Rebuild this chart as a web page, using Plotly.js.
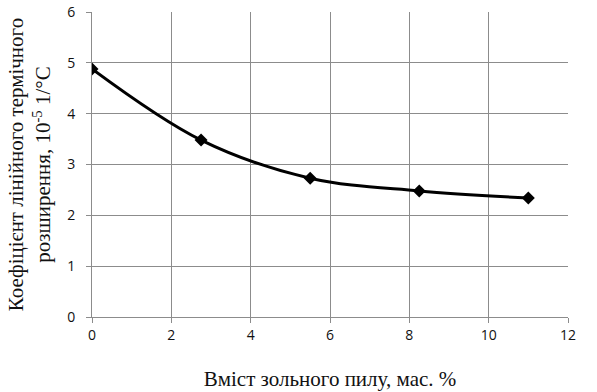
<!DOCTYPE html>
<html>
<head>
<meta charset="utf-8">
<script src="https://cdn.plot.ly/plotly-3.0.1.min.js"></script>
<style>html,body{margin:0;padding:0;background:#fff;}#chart{width:597px;height:392px;}</style>
</head>
<body>
<div id="chart"></div>
<script>
const ashContent = [0, 2.75, 5.5, 8.25, 11];
const expansionCoef = [4.88, 3.48, 2.73, 2.48, 2.34];
const xTicks = [0, 2, 4, 6, 8, 10, 12];
const yTicks = [0, 1, 2, 3, 4, 5, 6];
const xTitle = 'Вміст зольного пилу, мас. %';
const yTitle = 'Коефіцієнт лінійного термічного<br>розширення, 10<sup>-5</sup> 1/°C';

const serif = "Liberation Serif";
const sans = "Open Sans";

const trace = {
  x: ashContent, y: expansionCoef, type: 'scatter', mode: 'lines+markers',
  line: {color: '#000', width: 3, shape: 'spline', smoothing: 1},
  marker: {symbol: 'diamond', size: 10, color: '#000'},
  showlegend: false
};
const layout = {
  width: 597, height: 392,
  margin: {l: 92, r: 29, t: 12, b: 75},
  paper_bgcolor: '#fff', plot_bgcolor: '#fff',
  xaxis: {
    range: [0, 12], tickvals: xTicks, ticktext: xTicks.map(String),
    showgrid: true, gridcolor: '#8c8c8c', gridwidth: 1,
    zeroline: false, showline: true, linecolor: '#8c8c8c',
    ticks: 'outside', ticklen: 5, tickcolor: '#8c8c8c',
    tickfont: {family: sans, size: 14, color: '#111'},
    title: {text: xTitle, font: {family: serif, size: 21, color: '#111'}, standoff: 28}
  },
  yaxis: {
    range: [0, 6], tickvals: yTicks, ticktext: yTicks.map(String),
    showgrid: true, gridcolor: '#8c8c8c', gridwidth: 1,
    zeroline: false, showline: true, linecolor: '#8c8c8c',
    ticks: 'outside', ticklen: 5, tickcolor: '#8c8c8c', ticklabelstandoff: 8,
    tickfont: {family: sans, size: 14, color: '#111'},
    title: {text: yTitle, font: {family: serif, size: 21, color: '#111'}, standoff: 10}
  }
};
Plotly.newPlot('chart', [trace], layout, {displayModeBar: false, staticPlot: true});
</script>
</body>
</html>
